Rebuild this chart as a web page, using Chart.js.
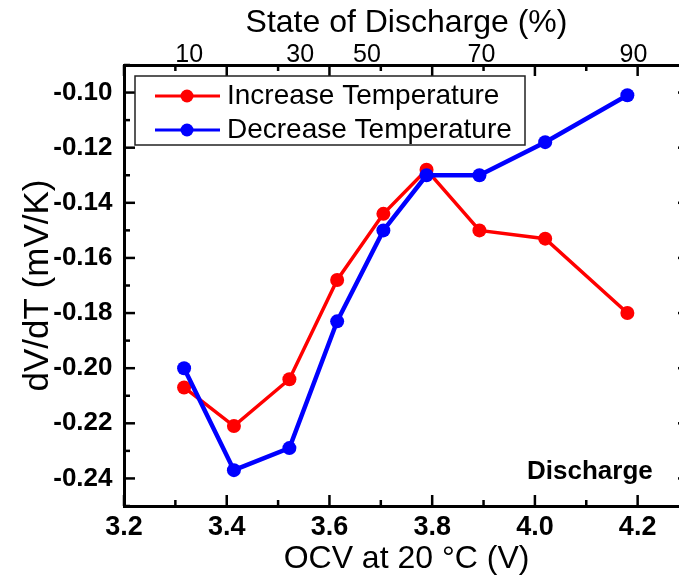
<!DOCTYPE html>
<html>
<head>
<meta charset="utf-8">
<script src="https://cdn.jsdelivr.net/npm/chart.js@4.4.0/dist/chart.umd.min.js"></script>
<style>
  html, body { margin: 0; padding: 0; background: #fff; overflow: hidden; }
  #wrap { width: 700px; height: 581px; }
</style>
</head>
<body>
<div id="wrap"><canvas id="dvdtChart" width="700" height="581"></canvas></div>
<script>
// OCV at 20 °C (V) of each measurement
const ocv = [3.317, 3.414, 3.522, 3.615, 3.705, 3.789, 3.892, 4.020, 4.180];
// dV/dT (mV/K)
const increaseTemp = [-0.207, -0.221, -0.204, -0.168, -0.144, -0.128, -0.150, -0.153, -0.180];
const decreaseTemp = [-0.200, -0.237, -0.229, -0.183, -0.150, -0.130, -0.130, -0.118, -0.101];
// top axis: state of discharge (%) and where it sits on the OCV axis
const sodLabels = ['10', '30', '50', '70', '90'];
const sodOcv = [3.327, 3.543, 3.673, 3.896, 4.192];

const FONT = "'Liberation Sans', Arial, sans-serif";
Chart.defaults.font.family = FONT;
Chart.defaults.color = '#000';

const isMajor = (v, k) => Math.round(Math.abs(v) * k) % 2 === 0;

// legend icon: line with a dot in the middle
function legendIcon(color) {
  const c = document.createElement('canvas');
  c.width = 66; c.height = 16;
  const g = c.getContext('2d');
  g.strokeStyle = color; g.lineWidth = 3;
  g.beginPath(); g.moveTo(0, 8); g.lineTo(66, 8); g.stroke();
  g.fillStyle = color;
  g.beginPath(); g.arc(33, 8, 6.5, 0, Math.PI * 2); g.fill();
  return c;
}
const icons = [legendIcon('#ff0000'), legendIcon('#0000ff')];

// inward tick marks on all four sides
const innerTicks = {
  id: 'innerTicks',
  afterDraw(chart) {
    const {ctx, chartArea: a, scales: {x, y}} = chart;
    ctx.save();
    ctx.strokeStyle = '#000';
    ctx.lineWidth = 2.5;
    const seg = (x1, y1, x2, y2) => { ctx.beginPath(); ctx.moveTo(x1, y1); ctx.lineTo(x2, y2); ctx.stroke(); };
    x.ticks.forEach(t => {
      const px = x.getPixelForValue(t.value);
      const len = isMajor(t.value, 10) ? 11 : 6;
      seg(px, a.bottom, px, a.bottom - len);
      seg(px, a.top, px, a.top + len);
    });
    y.ticks.forEach(t => {
      const py = y.getPixelForValue(t.value);
      const len = isMajor(t.value, 100) ? 11 : 6;
      seg(a.left, py, a.left + len, py);
      seg(a.right, py, a.right - len, py);
    });
    ctx.restore();
  }
};

// move the legend into the top-left corner and frame it
const legendFrame = {
  id: 'legendFrame',
  afterLayout(chart) {
    const lg = chart.legend, a = chart.chartArea;
    lg.left = a.left + 31;
    lg.top = a.top + 11;
  },
  afterDraw(chart) {
    const lg = chart.legend, ctx = chart.ctx;
    ctx.save();
    ctx.strokeStyle = '#222';
    ctx.lineWidth = 1.5;
    ctx.strokeRect(lg.left - 20, lg.top, 390, 69);
    ctx.restore();
  }
};

// "Discharge" note inside the plot
const noteText = 'Discharge';
const noteAt = {x: 4.107, y: -0.2375};
const note = {
  id: 'note',
  afterDraw(chart) {
    const {ctx, scales: {x, y}} = chart;
    ctx.save();
    ctx.font = 'bold 26px ' + FONT;
    ctx.fillStyle = '#000';
    ctx.textAlign = 'center';
    ctx.textBaseline = 'middle';
    ctx.fillText(noteText, x.getPixelForValue(noteAt.x), y.getPixelForValue(noteAt.y));
    ctx.restore();
  }
};

const frame = {display: true, color: '#000', width: 3};
const noGrid = {display: false, drawTicks: false};

new Chart(document.getElementById('dvdtChart'), {
  type: 'line',
  data: {
    datasets: [
      {
        label: 'Increase Temperature',
        data: ocv.map((v, i) => ({x: v, y: increaseTemp[i]})),
        borderColor: '#ff0000',
        backgroundColor: '#ff0000',
        borderWidth: 3.5,
        pointRadius: 7,
        pointBorderWidth: 0,
        order: 1
      },
      {
        label: 'Decrease Temperature',
        data: ocv.map((v, i) => ({x: v, y: decreaseTemp[i]})),
        borderColor: '#0000ff',
        backgroundColor: '#0000ff',
        borderWidth: 4.5,
        pointRadius: 7,
        pointBorderWidth: 0,
        order: 0
      }
    ]
  },
  options: {
    responsive: false,
    devicePixelRatio: 1,
    animation: false,
    layout: {padding: 0},
    plugins: {
      tooltip: {enabled: false},
      legend: {
        position: 'chartArea',
        align: 'start',
        labels: {
          usePointStyle: true,
          pointStyleWidth: 52,
          padding: 6,
          color: '#000',
          font: {size: 28},
          sort: (a, b) => a.datasetIndex - b.datasetIndex,
          generateLabels(chart) {
            const items = Chart.defaults.plugins.legend.labels.generateLabels(chart);
            items.forEach(it => { it.pointStyle = icons[it.datasetIndex]; });
            return items;
          }
        }
      }
    },
    scales: {
      x: {
        type: 'linear', position: 'bottom', min: 3.2, max: 4.3,
        border: frame, grid: noGrid,
        ticks: {
          stepSize: 0.1, autoSkip: false, maxRotation: 0, padding: 5,
          font: {size: 27, weight: 'bold'},
          callback: v => isMajor(v, 10) ? v.toFixed(1) : ''
        },
        title: {display: true, text: 'OCV at 20 °C (V)', font: {size: 32}, padding: {top: 0, bottom: 3}},
        afterFit: s => { s.height = 75; }
      },
      xTop: {
        type: 'linear', position: 'top', min: 3.2, max: 4.3,
        border: frame, grid: noGrid,
        afterBuildTicks: s => { s.ticks = sodOcv.map(v => ({value: v})); },
        ticks: {
          autoSkip: false, maxRotation: 0, padding: -5,
          font: {size: 25},
          callback: (v, i) => sodLabels[i]
        },
        title: {display: true, text: 'State of Discharge (%)', font: {size: 32}, padding: {top: 4, bottom: 0}},
        afterFit: s => { s.height = 65; }
      },
      y: {
        type: 'linear', position: 'left', min: -0.25, max: -0.09,
        border: frame, grid: noGrid,
        ticks: {
          stepSize: 0.01, autoSkip: false, padding: 11.5,
          font: {size: 26, weight: 'bold'},
          callback: v => isMajor(v, 100) ? v.toFixed(2) : ''
        },
        title: {display: true, text: 'dV/dT (mV/K)', font: {size: 35}, padding: {top: 17, bottom: 0}},
        afterFit: s => { s.width = 124; }
      },
      yRight: {
        type: 'linear', position: 'right', min: -0.25, max: -0.09,
        border: frame, grid: noGrid,
        ticks: {display: false},
        afterFit: s => { s.width = 11; }
      }
    }
  },
  plugins: [innerTicks, legendFrame, note]
});
</script>
</body>
</html>
